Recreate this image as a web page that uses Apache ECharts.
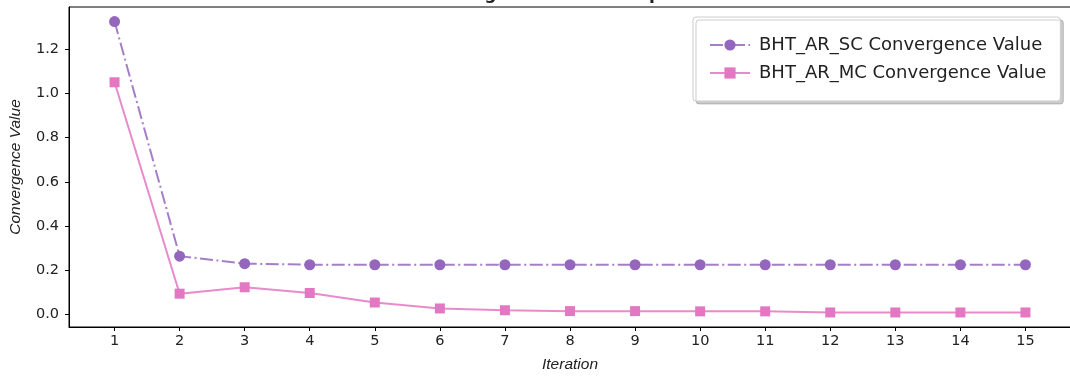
<!DOCTYPE html>
<html>
<head>
<meta charset="utf-8">
<script src="https://cdn.jsdelivr.net/npm/echarts@6/dist/echarts.min.js"></script>
<style>
  html, body { margin: 0; padding: 0; background: #fff; }
  #chart { width: 1070px; height: 376px; }
</style>
</head>
<body>
<div id="chart"></div>
<script>
// Iteration numbers on the x axis
const iterations = [1, 2, 3, 4, 5, 6, 7, 8, 9, 10, 11, 12, 13, 14, 15];
// Convergence value per iteration, single-chain variant
const scValues = [1.326, 0.264, 0.230, 0.225, 0.225, 0.225, 0.225, 0.225, 0.225, 0.225, 0.225, 0.225, 0.225, 0.225, 0.225];
// Convergence value per iteration, multi-chain variant
const mcValues = [1.051, 0.094, 0.123, 0.097, 0.054, 0.027, 0.019, 0.015, 0.015, 0.014, 0.014, 0.009, 0.009, 0.009, 0.009];
// Tick positions
const yTicks = [0.0, 0.2, 0.4, 0.6, 0.8, 1.0, 1.2];
const xTicks = iterations;

const seriesNames = ['BHT_AR_SC Convergence Value', 'BHT_AR_MC Convergence Value'];

// 5% padding around the data range on both axes
function padded(values) {
  const lo = Math.min(...values), hi = Math.max(...values);
  const m = (hi - lo) * 0.05;
  return [lo - m, hi + m];
}
const [xMin, xMax] = padded(iterations);
const [yMin, yMax] = padded(scValues.concat(mcValues));

const FONT = 'DejaVu Sans';
const INK = '#222';

const chart = echarts.init(document.getElementById('chart'), null, { renderer: 'canvas' });

chart.setOption({
  backgroundColor: '#fff',
  animation: false,
  title: {
    text: 'Convergence Value Comparison',
    left: 569,
    top: -14,
    padding: 0,
    textAlign: 'center',
    textStyle: { fontFamily: FONT, fontWeight: 'bold', fontSize: 17, color: INK }
  },
  legend: {
    orient: 'vertical',
    left: 693,
    top: 17,
    padding: [19, 14, 19, 16],
    itemGap: 10,
    itemWidth: 40,
    itemHeight: 14,
    backgroundColor: '#fff',
    borderColor: '#cccccc',
    borderWidth: 1,
    borderRadius: 3,
    shadowColor: 'rgba(0,0,0,0.2)',
    shadowBlur: 0,
    shadowOffsetX: 3,
    shadowOffsetY: 3,
    textStyle: { fontFamily: FONT, fontSize: 18, color: INK, padding: [0, 0, 0, 4] },
    data: seriesNames
  },
  grid: {
    left: 69,
    right: -1,
    top: 7,
    bottom: 49,
    outerBoundsMode: 'none',
    containLabel: false,
    show: true,
    borderColor: '#000',
    borderWidth: 1,
    backgroundColor: '#fff'
  },
  xAxis: {
    type: 'value',
    min: xMin,
    max: xMax,
    name: 'Iteration',
    nameLocation: 'middle',
    nameGap: 30,
    nameTextStyle: { fontFamily: 'Liberation Sans', fontStyle: 'italic', fontSize: 15.5, color: INK },
    axisLine: { show: true, onZero: false, lineStyle: { color: '#000', width: 1 } },
    axisTick: { show: true, length: 4, inside: false, customValues: xTicks, lineStyle: { color: '#000' } },
    axisLabel: {
      customValues: xTicks,
      margin: 7,
      fontFamily: FONT, fontSize: 14.5, color: INK,
      formatter: v => String(Math.round(v))
    },
    splitLine: { show: false }
  },
  yAxis: {
    type: 'value',
    min: yMin,
    max: yMax,
    name: 'Convergence Value',
    nameLocation: 'middle',
    nameGap: 45,
    nameTextStyle: { fontFamily: 'Liberation Sans', fontStyle: 'italic', fontSize: 15.5, color: INK },
    axisLine: { show: true, onZero: false, lineStyle: { color: '#000', width: 1 } },
    axisTick: { show: true, length: 4, inside: false, customValues: yTicks, lineStyle: { color: '#000' } },
    axisLabel: {
      customValues: yTicks,
      margin: 10,
      fontFamily: FONT, fontSize: 14.5, color: INK,
      formatter: v => v.toFixed(1)
    },
    splitLine: { show: false }
  },
  series: [
    {
      name: seriesNames[0],
      type: 'line',
      data: iterations.map((x, i) => [x, scValues[i]]),
      symbol: 'circle',
      symbolSize: 11,
      itemStyle: { color: '#9467bd' },
      lineStyle: { color: 'rgba(148,103,189,0.85)', width: 2, type: [13, 3.5, 2, 3.5] },
      z: 3
    },
    {
      name: seriesNames[1],
      type: 'line',
      data: iterations.map((x, i) => [x, mcValues[i]]),
      symbol: 'rect',
      symbolSize: 10,
      itemStyle: { color: '#e377c2' },
      lineStyle: { color: 'rgba(227,119,194,0.85)', width: 2, type: 'solid' },
      z: 2
    }
  ]
});
</script>
</body>
</html>
